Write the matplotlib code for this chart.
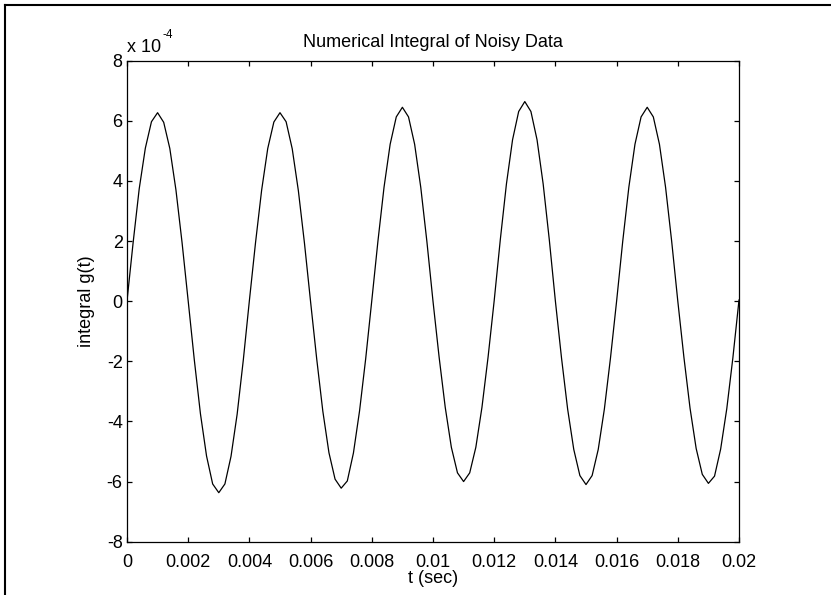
# -*- coding: utf-8 -*-
# Numerical integral of noisy data - recreated plot
import numpy as np
import matplotlib
matplotlib.use('Agg')
import matplotlib.pyplot as plt
from matplotlib.lines import Line2D

plt.rcParams['font.family'] = ['Liberation Sans', 'DejaVu Sans']
plt.rcParams['axes.unicode_minus'] = False

# =============================================================================
# Data (values of g(t) in units of 1e-4, sampled every 0.0002 s)
# =============================================================================
t_sec = [i * 0.0002 for i in range(101)]
g_vals = [0.00, 1.94, 3.74, 5.09, 5.97, 6.27, 5.95, 5.08, 3.70, 1.95,
          0.01, -1.95, -3.74, -5.15, -6.08, -6.37, -6.08, -5.16, -3.76, -1.97,
          0.02, 1.94, 3.69, 5.08, 5.96, 6.27, 5.97, 5.07, 3.68, 1.93,
          -0.02, -1.92, -3.66, -5.04, -5.92, -6.22, -5.98, -5.05, -3.65, -1.92,
          0.02, 1.99, 3.79, 5.22, 6.13, 6.45, 6.13, 5.22, 3.79, 1.99,
          0.00, -1.86, -3.53, -4.86, -5.71, -6.00, -5.71, -4.86, -3.53, -1.86,
          0.02, 2.05, 3.90, 5.37, 6.31, 6.64, 6.31, 5.37, 3.90, 2.05,
          0.00, -1.89, -3.59, -4.93, -5.80, -6.10, -5.80, -4.93, -3.59, -1.89,
          0.00, 1.99, 3.79, 5.22, 6.13, 6.45, 6.13, 5.22, 3.79, 1.99,
          0.00, -1.87, -3.56, -4.90, -5.76, -6.06, -5.82, -4.92, -3.58, -1.88,
          0.04]

x_ticks = [0, 0.002, 0.004, 0.006, 0.008, 0.01, 0.012, 0.014, 0.016, 0.018, 0.02]
x_tick_labels = ['0', '0.002', '0.004', '0.006', '0.008', '0.01',
                 '0.012', '0.014', '0.016', '0.018', '0.02']
y_ticks = [-8, -6, -4, -2, 0, 2, 4, 6, 8]

# =============================================================================
# Plotting
# =============================================================================
fig = plt.figure(figsize=(8.31, 5.95), dpi=100)
ax = fig.add_axes([0.1528, 0.0896, 0.7365, 0.8084])

ax.plot(t_sec, g_vals, color='black', linewidth=0.9)

ax.set_xlim(0, 0.02)
ax.set_ylim(-8, 8)
ax.set_xticks(x_ticks)
ax.set_xticklabels(x_tick_labels)
ax.set_yticks(y_ticks)

for sp in ax.spines.values():
    sp.set_linewidth(0.9)
ax.tick_params(direction='in', top=True, right=True, length=3.6, width=0.9,
               labelsize=13)
ax.tick_params(axis='x', pad=8.8)
ax.tick_params(axis='y', pad=3.1)

ax.set_title('Numerical Integral of Noisy Data', fontsize=13, y=1.0, pad=10)
ax.set_xlabel('t (sec)', fontsize=13)
ax.xaxis.set_label_coords(0.5, -0.0593)
ax.set_ylabel('integral g(t)', fontsize=13)
ax.yaxis.set_label_coords(-0.0518, 0.5)

# exponent label, MATLAB style
ax.annotate('x 10', xy=(0, 1), xycoords='axes fraction', xytext=(-0.3, 6.5),
            textcoords='offset points', ha='left', va='baseline', fontsize=13)
ax.annotate('-4', xy=(0, 1), xycoords='axes fraction', xytext=(25.6, 16.1),
            textcoords='offset points', ha='left', va='baseline', fontsize=8.5)

# frame lines of the window (top and left)
fig.add_artist(Line2D([4.5 / 831, 1], [1 - 5 / 595, 1 - 5 / 595],
                      transform=fig.transFigure, color='black', linewidth=1.5))
fig.add_artist(Line2D([4.5 / 831, 4.5 / 831], [0, 1 - 5 / 595],
                      transform=fig.transFigure, color='black', linewidth=1.5))

fig.savefig('out.png', dpi=100)
